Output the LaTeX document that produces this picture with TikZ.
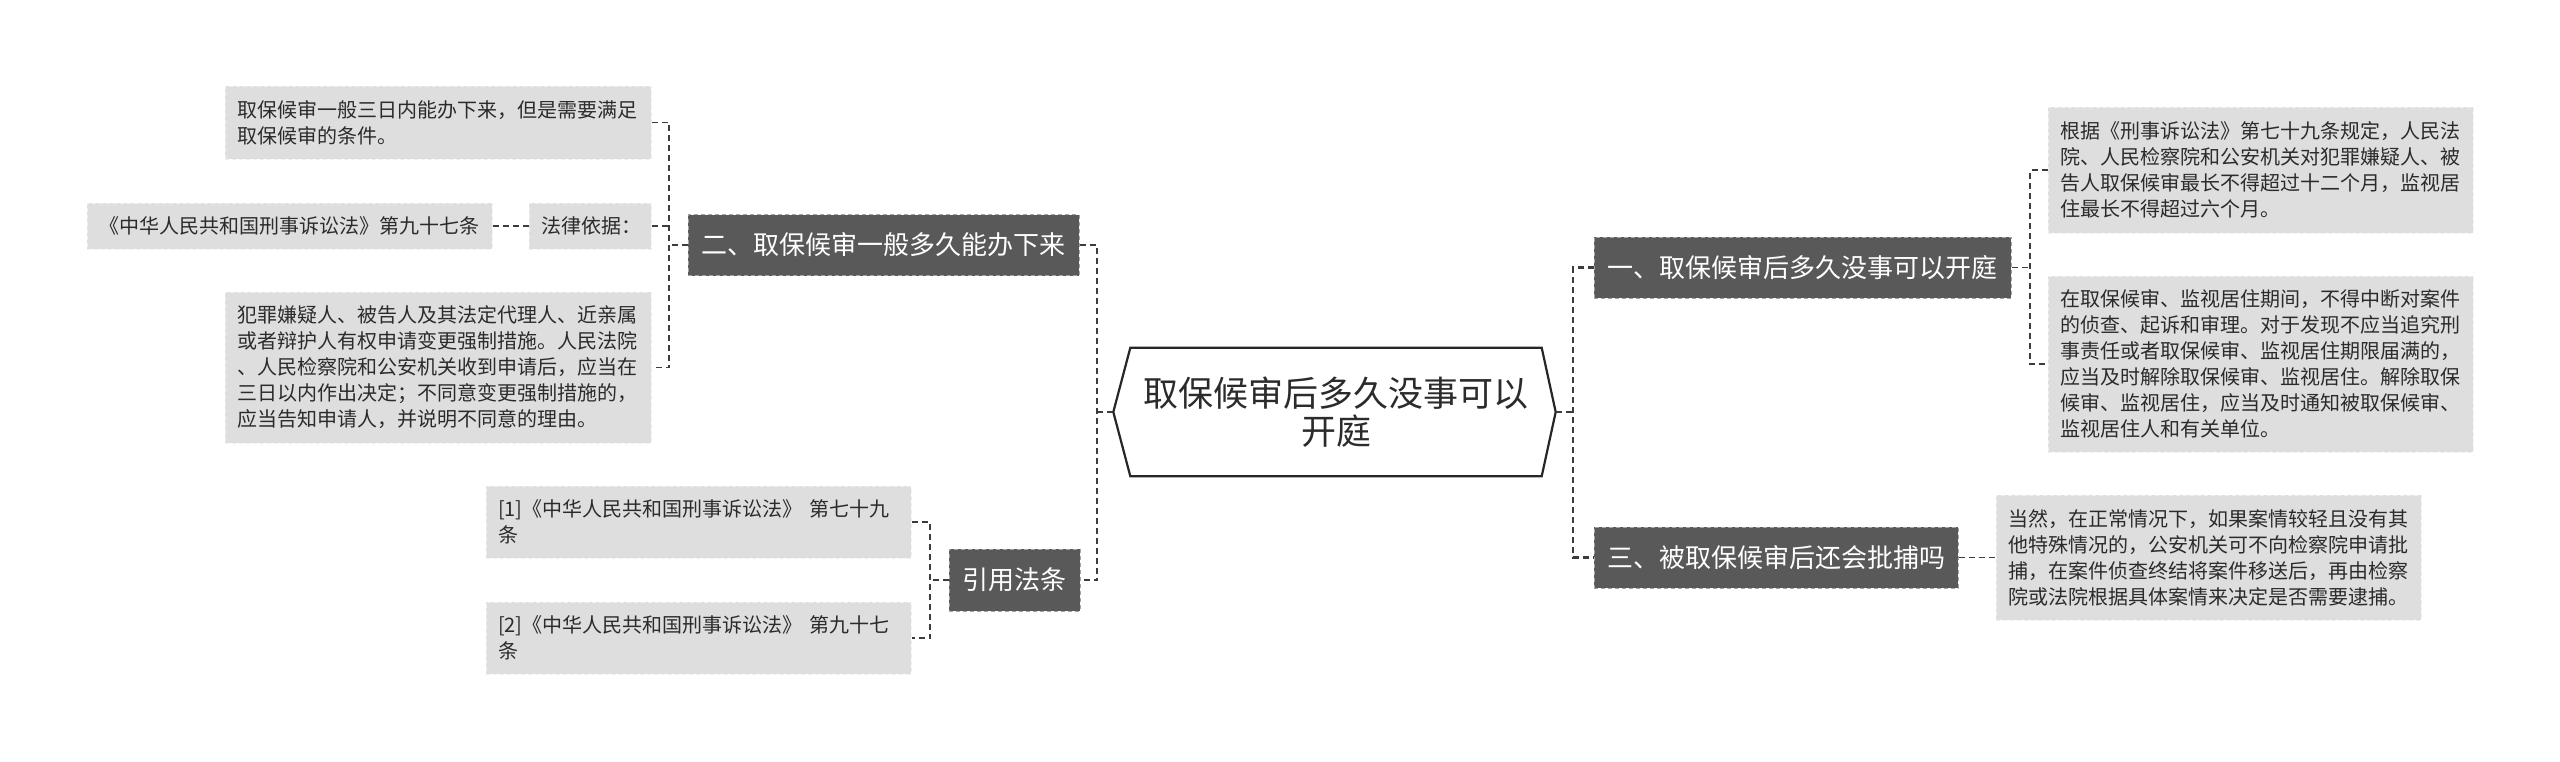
\documentclass[tikz,border=0pt]{standalone}
\usepackage{fontspec}
\setmainfont{Noto Sans CJK SC}
\usetikzlibrary{calc}
\definecolor{darkfill}{HTML}{595959}
\definecolor{lightfill}{HTML}{DEDEDE}
\definecolor{conncol}{HTML}{3C3C3C}
\definecolor{txtcol}{HTML}{2B2B2B}
\begin{document}
\begin{tikzpicture}[x=1pt,y=-1pt,
  gbox/.style={fill=lightfill, draw=white!55!lightfill, dash pattern=on 4pt off 3pt, line width=1pt,
    text=txtcol, font=\fontsize{20}{26}\selectfont, align=left, inner xsep=12pt, inner ysep=0pt},
  dbox/.style={fill=darkfill, draw=white!45!darkfill, dash pattern=on 4pt off 3pt, line width=1pt,
    text=white, font=\fontsize{26}{32}\selectfont, inner sep=0pt, minimum height=61pt},
  conn/.style={draw=conncol, line width=1.6pt, dash pattern=on 6pt off 4pt},
  mainconn/.style={conn, line width=2.2pt},
  hexa/.style={draw=black!85, line width=2.2pt, fill=white}
]
\useasboundingbox (0,0) rectangle (2560,761);

% center node
\node[inner sep=0pt, minimum width=411pt, minimum height=128pt, align=center,
  font=\fontsize{35}{38}\selectfont, text=txtcol] (c) at (1336,412) {};
\coordinate (cL) at ($(c.west)+(-17,0)$);
\coordinate (cR) at ($(c.east)+(14,0)$);
\draw[hexa] (cL) -- (c.north west) -- (c.north east) -- (cR) -- (c.south east) -- (c.south west) -- cycle;
\node[align=center, font=\fontsize{35}{38}\selectfont, text=txtcol] (ct) at (c.center) {取保候审后多久没事可以\\开庭};

% trunk coordinates
\coordinate (tl) at (1097,412);
\coordinate (tr) at (1573,412);
\coordinate (s2) at (669,245);
\coordinate (sy) at (930,580);
\coordinate (s1) at (2030,268);

% left branch nodes
\node[dbox, minimum width=391pt] (n2) at (883.5,245) {二、取保候审一般多久能办下来};
\node[dbox, minimum width=131pt, minimum height=62pt] (ny) at (1014.5,580) {引用法条};

% right branch nodes
\node[dbox, minimum width=417pt] (n1) at (1802.5,267.5) {一、取保候审后多久没事可以开庭};
\node[dbox, minimum width=364pt] (n3) at (1776,557.5) {三、被取保候审后还会批捕吗};

% leaves of n2
\node[gbox, text width=402pt, minimum height=73pt] (a1) at (438,122.5)
  {取保候审一般三日内能办下来，但是需要满足\\取保候审的条件。};
\node[gbox, text width=98pt, minimum height=46pt] (a2) at (590,226) {法律依据：};
\node[gbox, text width=381pt, minimum height=46pt] (a2b) at (289.5,226) {《中华人民共和国刑事诉讼法》第九十七条};
\node[gbox, text width=402pt, minimum height=151pt] (a3) at (438,367.5)
  {犯罪嫌疑人、被告人及其法定代理人、近亲属\\或者辩护人有权申请变更强制措施。人民法院\\、人民检察院和公安机关收到申请后，应当在\\三日以内作出决定；不同意变更强制措施的，\\应当告知申请人，并说明不同意的理由。};

% leaves of ny
\node[gbox, text width=401pt, minimum height=72pt] (y1) at (698.5,522)
  {[1]《中华人民共和国刑事诉讼法》 第七十九\\条};
\node[gbox, text width=401pt, minimum height=72pt] (y2) at (698.5,638)
  {[2]《中华人民共和国刑事诉讼法》 第九十七\\条};

% leaves of n1
\node[gbox, text width=401pt, minimum height=126pt] (r1) at (2260.5,170)
  {根据《刑事诉讼法》第七十九条规定，人民法\\院、人民检察院和公安机关对犯罪嫌疑人、被\\告人取保候审最长不得超过十二个月，监视居\\住最长不得超过六个月。};
\node[gbox, text width=401pt, minimum height=176pt] (r2) at (2260.5,364)
  {在取保候审、监视居住期间，不得中断对案件\\的侦查、起诉和审理。对于发现不应当追究刑\\事责任或者取保候审、监视居住期限届满的，\\应当及时解除取保候审、监视居住。解除取保\\候审、监视居住，应当及时通知被取保候审、\\监视居住人和有关单位。};

% leaf of n3
\node[gbox, text width=401pt, minimum height=125pt] (r3) at (2208.5,557.5)
  {当然，在正常情况下，如果案情较轻且没有其\\他特殊情况的，公安机关可不向检察院申请批\\捕，在案件侦查终结将案件移送后，再由检察\\院或法院根据具体案情来决定是否需要逮捕。};

% connectors: left main
\draw[mainconn] (cL) -- (tl);
\draw[mainconn] (n2.east) -- (n2.east -| tl) -- (ny.east -| tl) -- (ny.east);
% right main
\draw[mainconn] (cR) -- (tr);
\draw[mainconn] (n1.west) -- (n1.west -| tr) -- (n3.west -| tr) -- (n3.west);
% n2 subtree
\draw[conn] (n2.west) -- (n2.west -| s2);
\draw[conn] (a1.east) -- (a1.east -| s2) -- (a3.east -| s2) -- (a3.east);
\draw[conn] (a2.east) -- (a2.east -| s2);
\draw[conn] (a2.west) -- (a2b.east);
% ny subtree
\draw[conn] (ny.west) -- (ny.west -| sy);
\draw[conn] (y1.east) -- (y1.east -| sy) -- (y2.east -| sy) -- (y2.east);
% n1 subtree
\draw[conn] (n1.east) -- (n1.east -| s1);
\draw[conn] (r1.west) -- (r1.west -| s1) -- (r2.west -| s1) -- (r2.west);
% n3 leaf
\draw[conn] (n3.east) -- (r3.west);
\end{tikzpicture}
\end{document}
